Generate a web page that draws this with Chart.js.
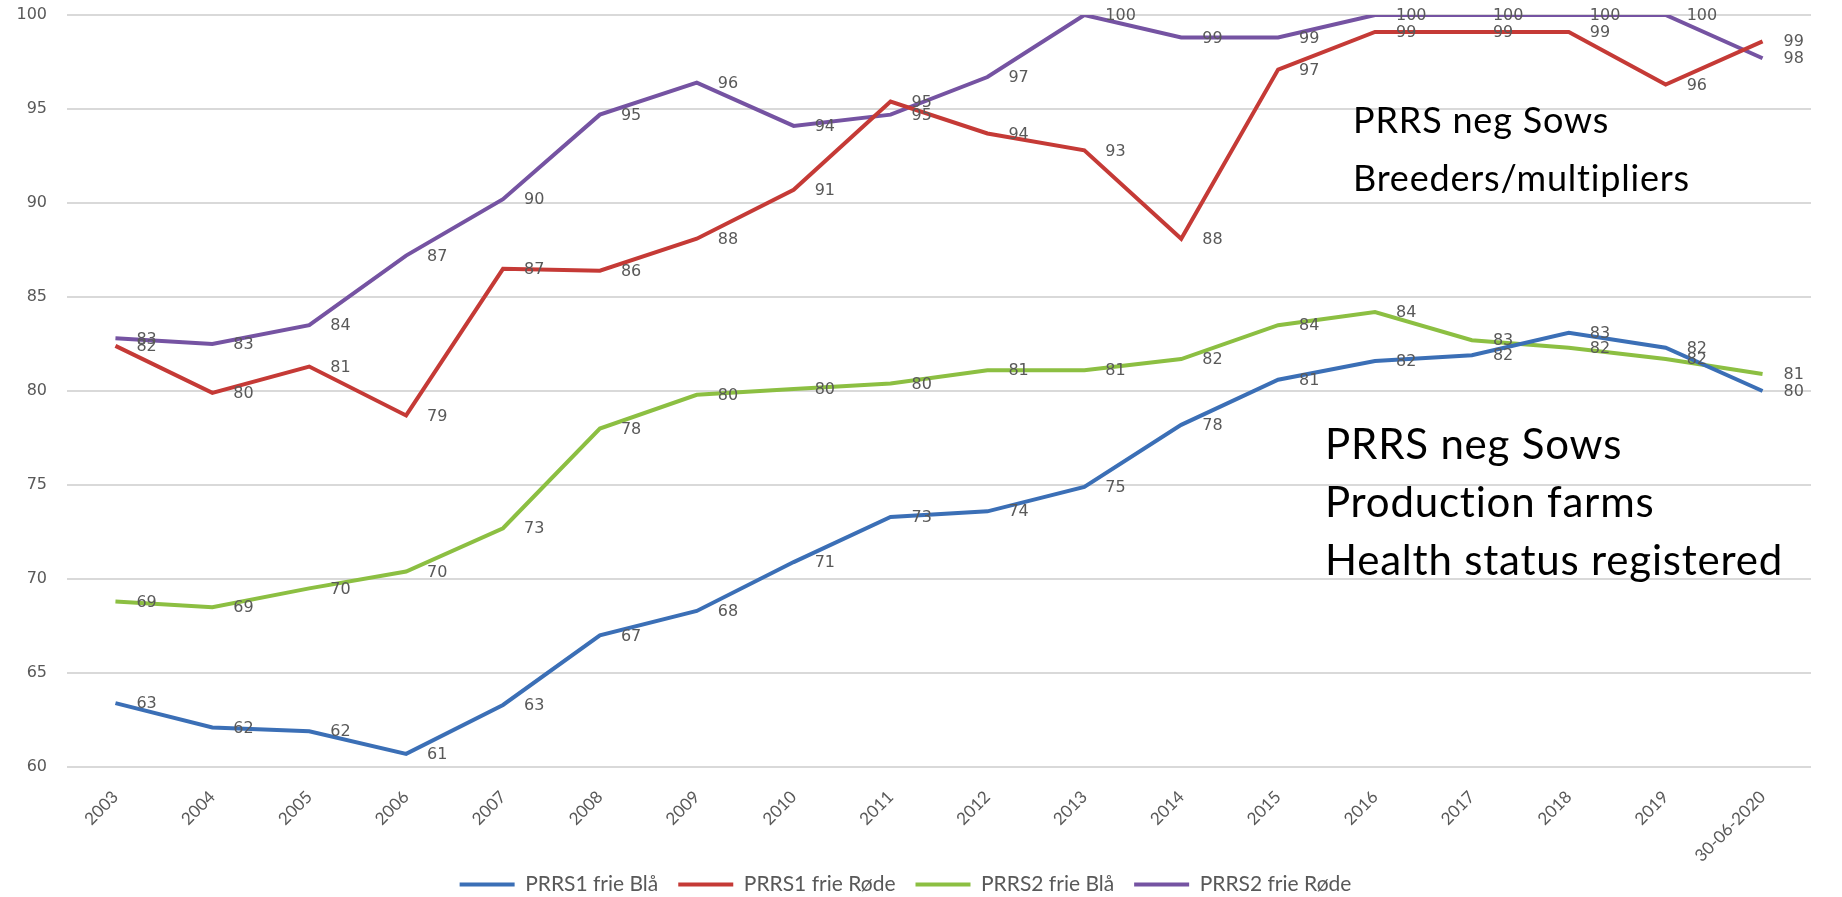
<!DOCTYPE html>
<html>
<head>
<meta charset="utf-8">
<script src="https://cdn.jsdelivr.net/npm/chart.js@4/dist/chart.umd.min.js"></script>
<style>
  html, body { margin: 0; padding: 0; background: #fff; }
  #wrap { position: relative; width: 1842px; height: 897px; }
</style>
</head>
<body>
<div id="wrap"><canvas id="myChart" width="1842" height="897"></canvas></div>
<script>
var years = ['2003', '2004', '2005', '2006', '2007', '2008', '2009', '2010', '2011',
  '2012', '2013', '2014', '2015', '2016', '2017', '2018', '2019', '30-06-2020'];

var prrs1Blaa = [63.4, 62.1, 61.9, 60.7, 63.3, 67.0, 68.3, 70.9, 73.3, 73.6, 74.9, 78.2,
  80.6, 81.6, 81.9, 83.1, 82.3, 80.0];
var prrs1Roede = [82.4, 79.9, 81.3, 78.7, 86.5, 86.4, 88.1, 90.7, 95.4, 93.7, 92.8, 88.1,
  97.1, 99.1, 99.1, 99.1, 96.3, 98.6];
var prrs2Blaa = [68.8, 68.5, 69.5, 70.4, 72.7, 78.0, 79.8, 80.1, 80.4, 81.1, 81.1, 81.7,
  83.5, 84.2, 82.7, 82.3, 81.7, 80.9];
var prrs2Roede = [82.8, 82.5, 83.5, 87.2, 90.2, 94.7, 96.4, 94.1, 94.7, 96.7, 100.0, 98.8,
  98.8, 100.0, 100.0, 100.0, 100.0, 97.7];

var seriesNames = ['PRRS1 frie Blå', 'PRRS1 frie Røde', 'PRRS2 frie Blå', 'PRRS2 frie Røde'];
var seriesColors = ['#3b6fb6', '#c53a36', '#8cbf42', '#7553a2'];
var yMin = 60, yMax = 100, yStep = 5;

var notes = [
  ['PRRS neg Sows', 'Breeders/multipliers'],
  ['PRRS neg Sows', 'Production farms', 'Health status registered']
];

// rounded value next to every point, like the excel labels
var pointLabels = {
  id: 'pointLabels',
  afterDatasetsDraw: function(chart) {
    var ctx = chart.ctx;
    ctx.save();
    ctx.font = '16px "DejaVu Sans"';
    ctx.fillStyle = '#595959';
    ctx.textAlign = 'left';
    ctx.textBaseline = 'middle';
    chart.data.datasets.forEach(function(ds, i) {
      var meta = chart.getDatasetMeta(i);
      meta.data.forEach(function(pt, j) {
        ctx.fillText(Math.round(ds.data[j]), pt.x + 21, pt.y + 1);
      });
    });
    ctx.restore();
  }
};

// the two text boxes on the right
var notesPlugin = {
  id: 'notes',
  afterLayout: function(chart) {
    // let the long rotated label run into the legend strip instead of being clipped
    chart.scales.x.bottom = chart.height;
  },
  afterDraw: function(chart) {
    var ctx = chart.ctx;
    var area = chart.chartArea;
    var boxes = [
      { x: area.right - 458, y: 133, size: 36 },
      { x: area.right - 486, y: 459, size: 42 }
    ];
    ctx.save();
    ctx.fillStyle = '#000';
    ctx.textBaseline = 'alphabetic';
    ctx.letterSpacing = '0.8px';
    notes.forEach(function(lines, k) {
      ctx.font = boxes[k].size + 'px Lato';
      lines.forEach(function(t, n) {
        ctx.fillText(t, boxes[k].x, boxes[k].y + n * 58);
      });
    });
    ctx.restore();
  }
};

function generateGraph() {
  var sets = [prrs1Blaa, prrs1Roede, prrs2Blaa, prrs2Roede];
  var graphValues = [];
  for (var i = 0; i < sets.length; i++) {
    graphValues.push({
      label: seriesNames[i],
      data: sets[i],
      borderColor: seriesColors[i],
      backgroundColor: seriesColors[i],
      borderWidth: 4,
      pointRadius: 0,
      tension: 0
    });
  }
  new Chart(document.getElementById('myChart').getContext('2d'), {
    type: 'line',
    data: { labels: years, datasets: graphValues },
    plugins: [pointLabels, notesPlugin],
    options: {
      responsive: false,
      animation: false,
      layout: { padding: { top: 15, right: 31, bottom: -8, left: 0 } },
      plugins: {
        tooltip: { enabled: false },
        legend: {
          position: 'bottom',
          labels: {
            usePointStyle: true,
            pointStyle: 'line',
            pointStyleWidth: 55,
            boxHeight: 21,
            padding: 20,
            color: '#595959',
            font: { family: 'Lato', size: 21 }
          }
        }
      },
      scales: {
        x: {
          offset: true,
          grid: { display: false },
          border: { display: false },
          ticks: {
            minRotation: 45,
            maxRotation: 45,
            padding: 12,
            color: '#595959',
            font: { family: 'Lato', size: 17 }
          },
          afterFit: function(s) { s.height = 87; }
        },
        y: {
          min: yMin,
          max: yMax,
          grid: { color: '#d9d9d9', lineWidth: 2, drawTicks: true, tickLength: 20, tickColor: 'rgba(0,0,0,0)' },
          border: { display: false },
          ticks: {
            stepSize: yStep,
            padding: 0,
            color: '#595959',
            font: { family: 'DejaVu Sans', size: 16 }
          },
          afterFit: function(s) { s.width = 67; }
        }
      }
    }
  });
}
generateGraph();
</script>
</body>
</html>
